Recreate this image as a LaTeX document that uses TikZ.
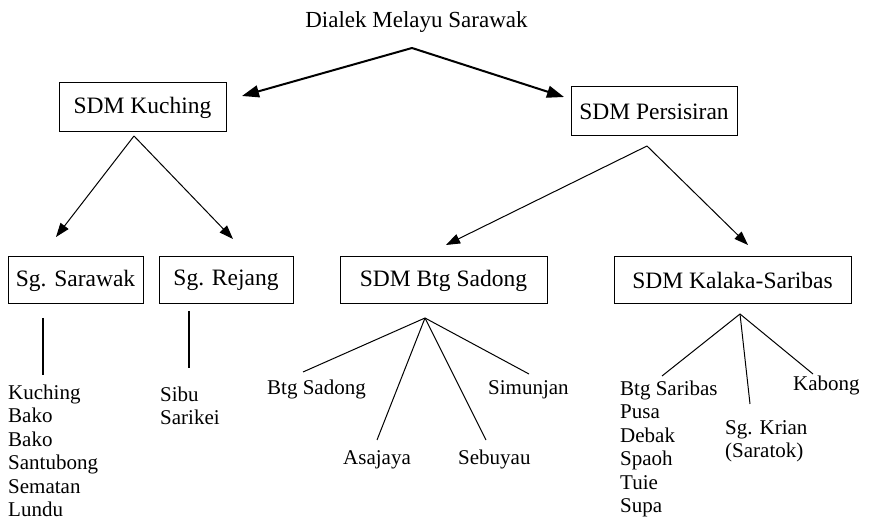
\documentclass[tikz,border=0pt]{standalone}
\usepackage{fontspec}
\setmainfont{Liberation Serif}
\usetikzlibrary{arrows.meta}
\begin{document}
\begin{tikzpicture}[x=1pt,y=-1pt,
  box/.style={draw, line width=1pt, inner sep=0pt, minimum height=47pt, font=\fontsize{23.5}{28}\selectfont},
  leaf/.style={inner sep=0pt, align=left, font=\fontsize{21}{23.5}\selectfont},
  titletext/.style={inner sep=0pt, font=\fontsize{23}{28}\selectfont},
  toparrow/.style={line width=2pt, -{Triangle[length=17pt,width=12pt]}},
  subarrow/.style={line width=1pt, -{Triangle[length=14pt,width=10pt]}},
  twig/.style={line width=1pt},
  stem/.style={line width=2pt}]
\useasboundingbox (0,0) rectangle (876,518);

% title
\node[titletext, anchor=base] (title) at (416.5,28) {Dialek Melayu Sarawak};

% boxes
\node[box, minimum width=167pt, minimum height=49pt] (kuching) at (142.5,107.5) {SDM Kuching};
\node[box, minimum width=166pt, minimum height=49pt] (persisiran) at (654,111.5) {SDM Persisiran};
\node[box, minimum width=135pt] (sarawak) at (75.5,280.5) {Sg. Sarawak};
\node[box, minimum width=134pt] (rejang) at (226,280.5) {Sg. Rejang};
\node[box, minimum width=207pt] (sadong) at (443.5,280.5) {SDM Btg Sadong};
\node[box, minimum width=237pt] (kalaka) at (732.5,280.5) {SDM Kalaka-Saribas};

% connector points
\coordinate (topapex) at (412,48);
\coordinate (kuchtip) at (242,96);
\coordinate (perstip) at (564,97);
\coordinate (kuchapex) at (134,136);
\coordinate (sarawaktip) at (56,237);
\coordinate (rejangtip) at (233,239);
\coordinate (persapex) at (647,146);
\coordinate (sadongtip) at (446,245);
\coordinate (kalakatip) at (748,245);
\coordinate (sarawaktop) at (43,318);
\coordinate (sarawakbot) at (43,375);
\coordinate (rejangtop) at (189,311);
\coordinate (rejangbot) at (189,368);
\coordinate (sadongapex) at (425,318);
\coordinate (sadA) at (303,372);
\coordinate (sadB) at (377,440);
\coordinate (sadC) at (486,440);
\coordinate (sadD) at (529,374);
\coordinate (kalapex) at (740,314);
\coordinate (kalA) at (662,376);
\coordinate (kalB) at (750,404);
\coordinate (kalC) at (813,374);

% arrows
\draw[toparrow] (topapex) -- (kuchtip);
\draw[toparrow] (topapex) -- (perstip);
\draw[subarrow] (kuchapex) -- (sarawaktip);
\draw[subarrow] (kuchapex) -- (rejangtip);
\draw[subarrow] (persapex) -- (sadongtip);
\draw[subarrow] (persapex) -- (kalakatip);

% stems and twigs
\draw[stem] (sarawaktop) -- (sarawakbot);
\draw[stem] (rejangtop) -- (rejangbot);
\draw[twig] (sadongapex) -- (sadA);
\draw[twig] (sadongapex) -- (sadB);
\draw[twig] (sadongapex) -- (sadC);
\draw[twig] (sadongapex) -- (sadD);
\draw[twig] (kalapex) -- (kalA);
\draw[twig] (kalapex) -- (kalB);
\draw[twig] (kalapex) -- (kalC);

% leaves
\node[leaf, anchor=north west] (kuchlist) at (8,384.5) {Kuching\\Bako\\Bako\\Santubong\\Sematan\\Lundu};
\node[leaf, anchor=north west] (rejanglist) at (160,386.5) {Sibu\\Sarikei};
\node[leaf, anchor=base west] (btgsadong) at (267,395) {Btg Sadong};
\node[leaf, anchor=base west] (asajaya) at (343,465) {Asajaya};
\node[leaf, anchor=base west] (sebuyau) at (458,465) {Sebuyau};
\node[leaf, anchor=base west] (simunjan) at (488,395) {Simunjan};
\node[leaf, anchor=north west] (saribaslist) at (620,380.5) {Btg Saribas\\Pusa\\Debak\\Spaoh\\Tuie\\Supa};
\node[leaf, anchor=north west] (krian) at (725,420) {Sg. Krian\\(Saratok)};
\node[leaf, anchor=base west] (kabong) at (793,391) {Kabong};
\end{tikzpicture}
\end{document}
